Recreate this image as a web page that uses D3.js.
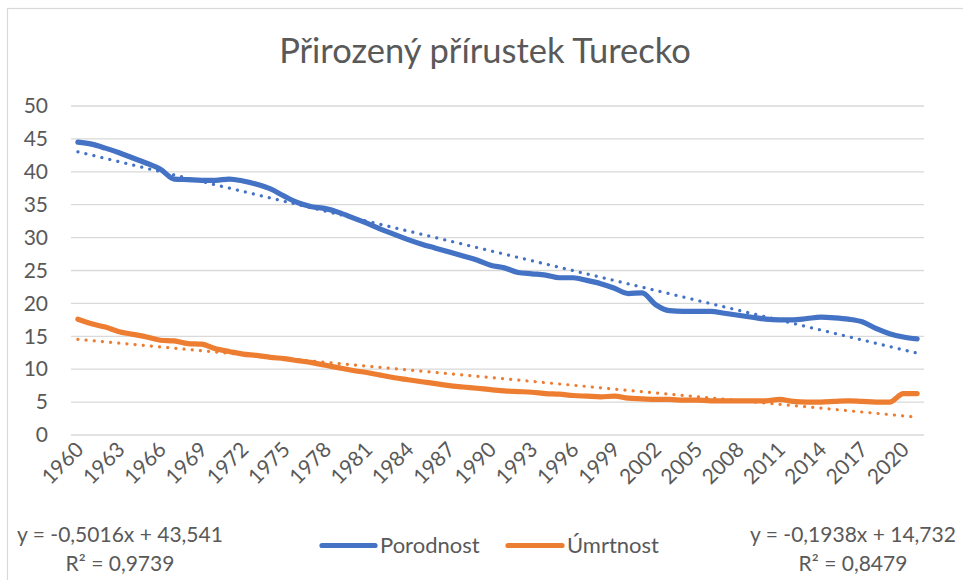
<!DOCTYPE html>
<html><head><meta charset="utf-8">
<script src="https://cdn.jsdelivr.net/npm/d3@7"></script>
<style>
html,body{margin:0;padding:0;background:#fff;}
text{font-family:Lato,"Open Sans",sans-serif;fill:#595959;}
</style></head>
<body><svg id="c" width="963" height="580"></svg>
<script>
const years = d3.range(1960, 2022);
const porodnost = [44.5,44.2,43.6,42.9,42.1,41.3,40.4,38.9,38.8,38.7,
  38.7,38.9,38.6,38.1,37.4,36.3,35.3,34.7,34.4,33.8,
  33.0,32.2,31.3,30.5,29.7,29.0,28.4,27.8,27.2,26.6,
  25.8,25.4,24.7,24.5,24.3,23.9,23.9,23.5,23.0,22.3,
  21.5,21.6,19.8,18.9,18.8,18.8,18.8,18.5,18.2,17.9,
  17.6,17.5,17.5,17.7,17.9,17.8,17.6,17.2,16.2,15.4,
  14.9,14.6];
const umrtnost = [17.6,16.9,16.4,15.7,15.3,14.9,14.4,14.3,13.9,13.8,
  13.1,12.7,12.3,12.1,11.8,11.6,11.3,11.0,10.6,10.2,
  9.8,9.5,9.1,8.7,8.4,8.1,7.8,7.5,7.3,7.1,
  6.9,6.7,6.6,6.5,6.3,6.2,6.0,5.9,5.8,5.9,
  5.6,5.5,5.4,5.4,5.3,5.3,5.2,5.2,5.2,5.2,
  5.2,5.4,5.1,5.0,5.0,5.1,5.2,5.1,5.0,5.0,
  6.3,6.3];
const seriesNames = ["Porodnost","Úmrtnost"];
const seriesColors = ["#4472C4","#ED7D31"];
const trendSlope = [-0.5016,-0.1938];
const trendIntercept = [43.541,14.732];
const trendLabels = [["y = -0,5016x + 43,541","R² = 0,9739"],["y = -0,1938x + 14,732","R² = 0,8479"]];
const yTicks = [0,5,10,15,20,25,30,35,40,45,50];
const xTickYears = years.filter((y,i)=>i%3===0);
const title = "Přirozený přírustek Turecko";

const svg = d3.select("#c");
// chart frame
svg.append("rect").attr("x",7.5).attr("y",8.5).attr("width",970).attr("height",590)
  .attr("fill","none").attr("stroke","#d9d9d9").attr("stroke-width",1.2);

const L=71, R=924, T=106, B=435;
const x = d3.scaleBand().domain(years).range([L,R]);
const xc = d => x(d)+x.bandwidth()/2;
const y = d3.scaleLinear().domain([0,50]).range([B,T]);
const FS = "21px";

svg.append("text").attr("x",485).attr("y",63).attr("text-anchor","middle")
  .style("font-size","34.5px").text(title);

// grid
svg.append("g").selectAll("line").data(yTicks).join("line")
  .attr("x1",L).attr("x2",R).attr("y1",d=>y(d)).attr("y2",d=>y(d))
  .attr("stroke","#d9d9d9").attr("stroke-width",1.3);

// y axis labels
const ya = svg.append("g").attr("transform",`translate(${L},0)`)
  .call(d3.axisLeft(y).tickValues(yTicks).tickSize(0).tickPadding(23));
ya.select(".domain").remove();
ya.selectAll("text").style("font-size",FS).style("font-family","Lato").attr("fill","#595959");

// x axis labels
const xa = svg.append("g").attr("transform",`translate(0,${B})`)
  .call(d3.axisBottom(x).tickValues(xTickYears).tickSize(0));
xa.select(".domain").remove();
xa.selectAll("text").style("font-size",FS).style("font-family","Lato").attr("fill","#595959")
  .attr("text-anchor","end").attr("dy",null).attr("y",null)
  .attr("transform","translate(7,16) rotate(-45)");

const data = [porodnost, umrtnost];
const line = d3.line().x((d,i)=>xc(years[i])).y(d=>y(d)).curve(d3.curveMonotoneX);

// trendlines
data.forEach((s,k)=>{
  const pts = [1, years.length].map(n=>[n, trendSlope[k]*n + trendIntercept[k]]);
  svg.append("path")
    .attr("d", d3.line().x(p=>xc(years[p[0]-1])).y(p=>y(p[1]))(pts))
    .attr("fill","none").attr("stroke",seriesColors[k]).attr("stroke-width",3.2)
    .attr("stroke-linecap","round").attr("stroke-dasharray","0.1 8.1");
});
data.forEach((s,k)=>{
  svg.append("path").attr("d",line(s)).attr("fill","none")
    .attr("stroke",seriesColors[k]).attr("stroke-width",5.2)
    .attr("stroke-linecap","round").attr("stroke-linejoin","round");
});

// trend labels
const tlx = [120, 853];
trendLabels.forEach((lab,k)=>{
  lab.forEach((t,j)=>{
    svg.append("text").attr("x",tlx[k]).attr("y",542+j*29).attr("text-anchor","middle")
      .style("font-size",FS).text(t);
  });
});

// legend
const lg = [[322,375,380],[508,562,567]];
seriesNames.forEach((n,k)=>{
  svg.append("line").attr("x1",lg[k][0]).attr("x2",lg[k][1]).attr("y1",545.5).attr("y2",545.5)
    .attr("stroke",seriesColors[k]).attr("stroke-width",5.2).attr("stroke-linecap","round");
  svg.append("text").attr("x",lg[k][2]).attr("y",553).style("font-size","22px").text(n);
});
</script></body></html>
